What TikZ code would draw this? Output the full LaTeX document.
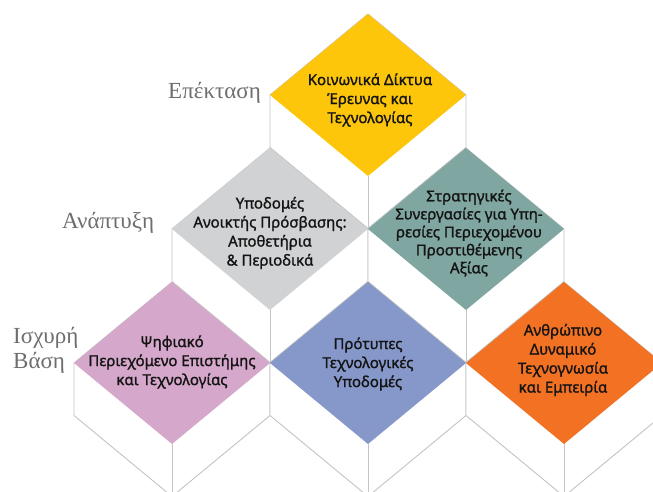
\documentclass[tikz,border=0pt]{standalone}
\usepackage{fontspec}
\setmainfont{Liberation Serif}
\newfontfamily\boxfont[FakeBold=1.3]{Noto Sans}
\definecolor{edgegray}{HTML}{C4C4C4}
\definecolor{cyellow}{HTML}{FDC60B}
\definecolor{cgray}{HTML}{D1D2D4}
\definecolor{cteal}{HTML}{7FA6A0}
\definecolor{cpink}{HTML}{D5A7CB}
\definecolor{cblue}{HTML}{8698CA}
\definecolor{corange}{HTML}{F27123}
\definecolor{labelgray}{HTML}{6E6E6E}
\newcommand\isocube[3]{%
  \filldraw[fill=white, draw=edgegray, line width=0.9pt, line join=round]
    (#1,#2-81) -- (#1+98,#2) -- (#1+98,#2+52.5) -- (#1,#2+133.5) -- (#1-98,#2+52.5) -- (#1-98,#2) -- cycle;
  \draw[edgegray, line width=0.9pt] (#1,#2+81) -- (#1,#2+133.5);
  \fill[#3] (#1,#2-81) -- (#1+98,#2) -- (#1,#2+81) -- (#1-98,#2) -- cycle;
}
\begin{document}
\begin{tikzpicture}[x=1pt,y=-1pt,
  boxtext/.style={align=center, text=black!92, inner sep=0pt,
    font=\boxfont\fontsize{15}{19}\selectfont},
  level/.style={text=labelgray, inner sep=0pt, align=left,
    font=\fontsize{23}{25}\selectfont}]
\useasboundingbox (0,0) rectangle (653,492);
\begin{scope}
\clip (0,0) rectangle (653,492);
\fill[white] (0,0) rectangle (653,492);
\isocube{368}{95}{cyellow}
\isocube{270}{229}{cgray}
\isocube{466}{229}{cteal}
\isocube{172}{363}{cpink}
\isocube{368}{363}{cblue}
\isocube{564}{363}{corange}
\end{scope}
\node[boxtext] (t1) at (370,100) {Κοινωνικά Δίκτυα\\Έρευνας και\\Τεχνολογίας};
\node[boxtext] (t2) at (270,233) {Υποδομές\\Ανοικτής Πρόσβασης:\\Αποθετήρια\\\& Περιοδικά};
\node[boxtext, font=\boxfont\fontsize{15}{18}\selectfont] (t3) at (469,233) {Στρατηγικές\\Συνεργασίες για Υπη-\\ρεσίες Περιεχομένου\\Προστιθέμενης\\Αξίας};
\node[boxtext] (t4) at (172,362) {Ψηφιακό\\Περιεχόμενο Επιστήμης\\και Τεχνολογίας};
\node[boxtext] (t5) at (368,364) {Πρότυπες\\Τεχνολογικές\\Υποδομές};
\node[boxtext] (t6) at (563,360) {Ανθρώπινο\\Δυναμικό\\Τεχνογνωσία\\και Εμπειρία};
\node[level, anchor=west] (l1) at (168,93) {Επέκταση};
\node[level, anchor=west] (l2) at (62,223) {Ανάπτυξη};
\node[level, anchor=west] (l3) at (13,350) {Ισχυρή\\Βάση};
\end{tikzpicture}
\end{document}
